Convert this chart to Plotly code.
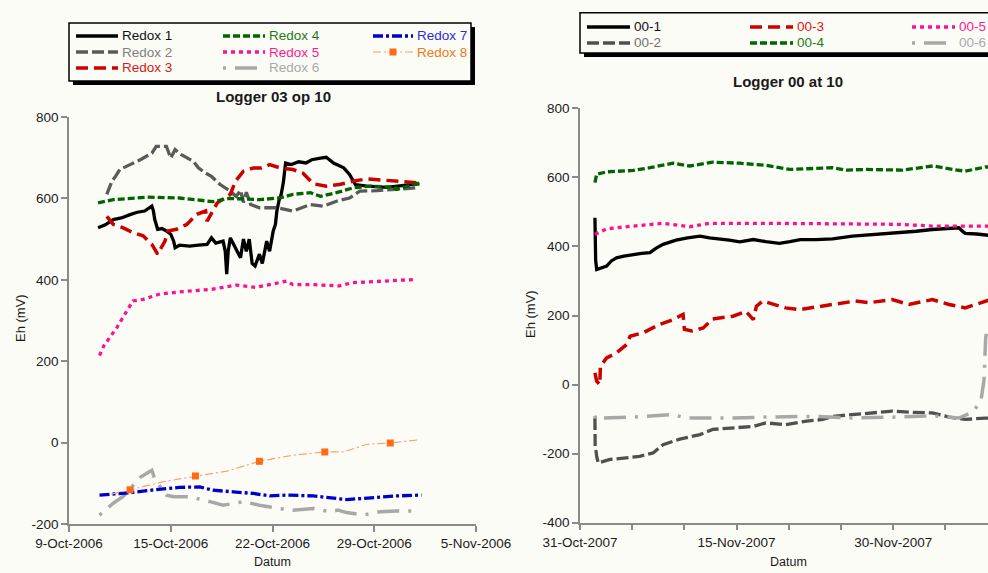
import pandas as pd
import plotly.graph_objects as go

W, H = 988, 573
BG = "#FCFCF6"
FONT = "Liberation Sans, Arial, sans-serif"
AXIS_GREY = "#8A8A8A"

START_03 = pd.Timestamp("2006-10-08")
START_00 = pd.Timestamp("2007-10-31")

# ---------------- Logger 03 op 10 : elapsed days since START_03, Eh in mV ----------------
redox1_days = [2.0, 2.5, 3.05, 3.6, 4.2, 4.7, 5.2, 5.5, 5.7, 5.8, 5.9, 6.1, 6.4, 6.7, 7.0, 7.2, 7.3,
               7.6, 8.3, 8.9, 9.5, 9.8, 10.1, 10.6, 10.75, 10.85, 10.95, 11.1, 11.4, 11.8, 12.0, 12.2,
               12.4, 12.6, 12.8, 13.1, 13.3, 13.6, 13.8, 14.05, 14.2, 14.3, 14.45, 14.6, 14.75, 14.9,
               15.3, 15.8, 16.3, 16.7, 17.3, 17.7, 18.2, 18.9, 19.3, 19.7, 20.5, 21.85, 23.5, 24.1]
redox1_eh = [528, 535, 548, 552, 560, 566, 569, 575, 581, 570, 548, 524, 526, 520, 512, 495, 479,
             485, 483, 485, 487, 503, 490, 495, 470, 414, 470, 503, 480, 454, 500, 470,
             500, 440, 434, 463, 440, 495, 470, 520, 536, 569, 595, 610, 640, 687,
             683, 690, 687, 695, 699, 701, 687, 675, 659, 634, 630, 627, 634, 636]

redox2_days = [2.6, 2.95, 3.2, 3.5, 4.2, 4.9, 5.7, 6.0, 6.7, 7.0, 7.3, 7.7, 8.55, 8.9, 9.4, 9.8, 10.4,
               11.0, 11.5, 11.8, 12.0, 12.2, 12.5, 13.1, 13.6, 14.3, 15.4, 16.6, 17.5, 18.4, 19.3,
               20.0, 21.2, 22.3, 23.9]
redox2_eh = [610, 642, 654, 671, 683, 695, 711, 728, 728, 699, 720, 708, 691, 675, 662, 654, 634,
             620, 605, 620, 590, 615, 585, 577, 577, 577, 569, 585, 581, 593, 601,
             618, 619, 622, 626]

redox3_days = [2.6, 3.05, 3.7, 4.4, 5.1, 5.7, 6.1, 6.6, 6.8, 7.4, 8.1, 8.8, 9.4, 9.5, 10.2, 11.1,
               11.45, 12.0, 12.7, 13.25, 13.8, 14.5, 15.4, 16.1, 16.8, 17.7, 18.6, 19.5, 20.5, 21.6,
               22.8, 24.1]
redox3_eh = [556, 536, 528, 516, 508, 487, 463, 495, 520, 524, 536, 561, 569, 544, 589, 610,
             642, 667, 675, 675, 683, 675, 671, 662, 636, 630, 634, 642, 648, 645,
             642, 638]

redox4_days = [2.0, 3.05, 5.3, 7.6, 9.9, 11.0, 13.1, 14.5, 15.4, 16.6, 17.3, 18.4, 19.55, 20.7,
               22.0, 22.3, 22.5, 24.1]
redox4_eh = [589, 597, 603, 601, 592, 600, 597, 601, 610, 614, 605, 614, 626, 630,
             628, 630, 622, 638]

redox5_days = [2.1, 2.4, 2.8, 3.3, 3.85, 4.1, 4.4, 5.1, 6.25, 7.85, 9.9, 11.5, 12.9, 13.1, 15.0,
               15.4, 16.8, 18.6, 19.5, 21.2, 22.8, 23.9]
redox5_eh = [214, 238, 258, 283, 316, 332, 348, 352, 365, 371, 377, 387, 381, 383, 397,
             388, 388, 385, 393, 396, 399, 401]

redox6_days = [2.1, 3.05, 3.7, 4.95, 5.5, 5.7, 5.9, 6.3, 6.7, 7.2, 8.3, 9.7, 10.6, 12.0, 13.1,
               14.5, 15.4, 16.8, 17.95, 18.5, 19.1, 20.25, 21.4, 22.5, 24.1]
redox6_eh = [-178, -149, -133, -84, -72, -68, -90, -109, -129, -133, -133, -145, -154, -145, -154,
             -162, -166, -162, -170, -166, -172, -178, -170, -168, -168]

redox7_days = [2.1, 3.05, 4.2, 5.35, 6.7, 7.6, 9.0, 9.9, 11.3, 12.7, 13.8, 15.0, 16.8, 18.2, 19.1,
               20.25, 21.4, 22.5, 24.25]
redox7_eh = [-129, -127, -123, -118, -113, -110, -109, -117, -121, -125, -131, -129, -131, -137, -140,
             -137, -133, -131, -129]

redox8_days = [2.9, 3.3, 4.2, 6.5, 8.7, 10.85, 13.1, 15.4, 17.6, 18.9, 20.5, 22.1, 24.1]
redox8_eh = [-127, -124, -116, -96, -82, -70, -46, -31, -23, -23, -4, -1, 7]
redox8_marked = [2, 4, 6, 8, 11]   # readings shown with a square marker

# ---------------- Logger 00 at 10 : elapsed days since START_00, Eh in mV ----------------
s001_days = [1.43, 1.45, 1.5, 1.6, 2.0, 2.55, 3.0, 3.5, 4.2, 5.1, 5.9, 6.7, 7.3, 7.96, 8.5, 9.2,
             10.3, 11.5, 12.4, 13.4, 14.3, 15.3, 16.0, 16.6, 17.8, 19.1, 20.1, 21.1, 22.6, 24.2,
             26.1, 27.6, 29.0, 30.6, 32.2, 33.75, 35.0, 36.3, 36.6, 36.9, 38.0, 38.85, 39.2]
s001_eh = [483, 420, 360, 333, 338, 343, 358, 367, 372, 377, 380, 382, 395, 406, 412, 418,
           425, 430, 425, 422, 418, 413, 418, 420, 414, 409, 414, 420, 420, 422,
           430, 433, 438, 441, 444, 449, 451, 454, 445, 438, 436, 433, 432]

s002_days = [1.43, 1.45, 1.6, 1.75, 2.87, 4.46, 5.7, 7.0, 7.96, 9.55, 11.5, 12.7, 14.65, 16.6,
             17.8, 19.7, 21.7, 23.25, 24.2, 26.1, 27.4, 29.9, 31.5, 33.75, 35.35, 36.9, 38.85, 39.2]
s002_eh = [-97, -174, -208, -227, -217, -213, -208, -198, -174, -158, -145, -130, -126, -121,
           -111, -116, -106, -101, -92, -87, -82, -77, -80, -82, -94, -101, -97, -97]

s003_days = [1.43, 1.6, 1.9, 1.95, 2.55, 3.5, 4.46, 4.8, 6.05, 7.6, 8.9, 9.87, 10.0, 10.7, 11.8,
             12.7, 14.65, 15.9, 16.6, 16.9, 17.5, 18.5, 19.7, 21.0, 22.9, 24.2, 26.4, 27.7, 29.9,
             31.5, 33.75, 35.35, 36.9, 38.85, 39.2]
s003_eh = [34, 10, 0, 53, 77, 92, 116, 140, 150, 174, 188, 203, 160, 155, 164,
           190, 198, 212, 188, 227, 242, 232, 222, 217, 227, 232, 242, 237, 246,
           232, 246, 232, 222, 242, 245]

s004_days = [1.43, 1.6, 2.55, 5.1, 6.7, 7.96, 8.9, 10.5, 12.7, 15.3, 17.8, 20.1, 22.6, 24.2, 25.5,
             27.4, 30.9, 33.8, 35.7, 36.9, 38.85, 39.2]
s004_eh = [585, 609, 616, 620, 628, 635, 641, 633, 644, 641, 635, 623, 625, 628, 621,
           623, 621, 633, 623, 618, 630, 630]

s005_days = [1.43, 2.55, 5.1, 7.96, 10.5, 12.4, 17.8, 24.2, 30.6, 33.7, 38.85, 39.2]
s005_eh = [435, 451, 459, 467, 457, 467, 467, 466, 464, 459, 459, 459]

s006_days = [1.43, 1.5, 1.9, 5.1, 8.9, 10.2, 14.65, 17.8, 22.6, 25.8, 30.6, 33.75, 36.3, 37.6,
             38.4, 38.7, 38.85, 39.0]
s006_eh = [-90, -100, -97, -94, -87, -97, -97, -94, -92, -97, -94, -90, -97, -80,
           -48, 14, 130, 170]

# axis ticks
x03_tickdays = [0, 7, 14, 21, 28]
x03_ticktext = ["9-Oct-2006", "15-Oct-2006", "22-Oct-2006", "29-Oct-2006", "5-Nov-2006"]
y03_ticks = [-200, 0, 200, 400, 600, 800]
x00_tickdays = [0, 5, 10, 15, 20, 25, 30, 35]
x00_ticktext = ["31-Oct-2007", "", "", "15-Nov-2007", "", "", "30-Nov-2007", ""]
y00_ticks = [-400, -200, 0, 200, 400, 600, 800]

# series styles: (name, days, eh, line colour, width, dash, label colour)
styles_03 = [
    ("Redox 1", redox1_days, redox1_eh, "#000000", 3.3, "solid", "#111111"),
    ("Redox 2", redox2_days, redox2_eh, "#5A5A5A", 3.3, "12px,4px", "#808080"),
    ("Redox 3", redox3_days, redox3_eh, "#CC0000", 3.5, "12px,6px", "#D81818"),
    ("Redox 4", redox4_days, redox4_eh, "#006400", 3.3, "7px,3px", "#1E7B1E"),
    ("Redox 5", redox5_days, redox5_eh, "#FF1090", 3.3, "4px,4px", "#FF1A90"),
    ("Redox 6", redox6_days, redox6_eh, "#A8A8A8", 3.5, "3px,9px,22px,9px", "#A8A8A8"),
    ("Redox 7", redox7_days, redox7_eh, "#0000CC", 3.3, "10px,3px,3px,3px", "#2B2BE0"),
    ("Redox 8", redox8_days, redox8_eh, "#F8A070", 1.2, "8px,3px,2px,3px", "#F07820"),
]
styles_00 = [
    ("00-1", s001_days, s001_eh, "#000000", 3.3, "solid", "#111111"),
    ("00-2", s002_days, s002_eh, "#505050", 3.3, "12px,4px", "#707070"),
    ("00-3", s003_days, s003_eh, "#CC0000", 3.5, "12px,6px", "#D81818"),
    ("00-4", s004_days, s004_eh, "#006400", 3.3, "7px,3px", "#1E7B1E"),
    ("00-5", s005_days, s005_eh, "#FF1090", 3.3, "4px,4px", "#FF1A90"),
    ("00-6", s006_days, s006_eh, "#A8A8A8", 3.5, "3px,9px,22px,9px", "#A8A8A8"),
]


def to_dates(start, days):
    return start + pd.to_timedelta(days, unit="D")


def px(x):
    return x / W


def py(y):
    return 1 - y / H


fig = go.Figure()

for name, d, v, col, w, dash, _ in styles_03:
    fig.add_trace(go.Scatter(x=to_dates(START_03, d), y=v, mode="lines", name=name,
                             line=dict(color=col, width=w, dash=dash),
                             xaxis="x", yaxis="y", showlegend=False))
fig.add_trace(go.Scatter(x=to_dates(START_03, [redox8_days[i] for i in redox8_marked]),
                         y=[redox8_eh[i] for i in redox8_marked], mode="markers",
                         marker=dict(symbol="square", size=7, color="#FF6A13"),
                         xaxis="x", yaxis="y", showlegend=False))

for name, d, v, col, w, dash, _ in styles_00:
    fig.add_trace(go.Scatter(x=to_dates(START_00, d), y=v, mode="lines", name=name,
                             line=dict(color=col, width=w, dash=dash),
                             xaxis="x2", yaxis="y2", showlegend=False))

tickfont = dict(family=FONT, size=13.5, color="#1A1A1A")
axis_common = dict(showline=True, linecolor=AXIS_GREY, linewidth=1.5, ticks="outside",
                   ticklen=6, tickwidth=1.5, tickcolor=AXIS_GREY, showgrid=False,
                   zeroline=False, tickfont=tickfont, automargin=False)

fig.update_layout(
    template="none",
    width=W, height=H, margin=dict(l=0, r=0, t=0, b=0, pad=0),
    paper_bgcolor=BG, plot_bgcolor=BG, showlegend=False,
    xaxis=dict(domain=[px(69), px(476)], anchor="y", type="date",
               range=[START_03, to_dates(START_03, 28)],
               tickvals=list(to_dates(START_03, x03_tickdays)), ticktext=x03_ticktext,
               **axis_common),
    yaxis=dict(domain=[py(524), py(117)], anchor="x", range=[-200, 800],
               tickvals=y03_ticks, ticktext=[str(t) for t in y03_ticks], **axis_common),
    xaxis2=dict(domain=[px(580), 1.0], anchor="y2", type="date",
                range=[START_00, to_dates(START_00, 39.08)],
                tickvals=list(to_dates(START_00, x00_tickdays)), ticktext=x00_ticktext,
                **axis_common),
    yaxis2=dict(domain=[py(522.7), py(108.3)], anchor="x2", range=[-400, 800],
                tickvals=y00_ticks, ticktext=[str(t) for t in y00_ticks], **axis_common),
)

shapes = []
annotations = []


def add_text(x, y, text, size=13, color="#1A1A1A", bold=False, angle=0, anchor="center"):
    annotations.append(dict(
        x=px(x), y=py(y), xref="paper", yref="paper", showarrow=False,
        text=f"<b>{text}</b>" if bold else text, textangle=angle,
        xanchor=anchor, yanchor="middle",
        font=dict(family=FONT, size=size, color=color)))


def legend_box(x0, y0, x1, y1):
    shapes.append(dict(type="rect", xref="paper", yref="paper",
                       x0=px(x0 + 4), x1=px(x1 + 4), y0=py(y1 + 4), y1=py(y0 + 4),
                       fillcolor="#000000", line=dict(width=0)))
    shapes.append(dict(type="rect", xref="paper", yref="paper",
                       x0=px(x0), x1=px(x1), y0=py(y1), y1=py(y0),
                       fillcolor=BG, line=dict(color="#000000", width=1.5)))


def legend_entry(x0, x1, y, col, w, dash, label, label_col):
    shapes.append(dict(type="line", xref="paper", yref="paper",
                       x0=px(x0), x1=px(x1), y0=py(y), y1=py(y),
                       line=dict(color=col, width=max(w, 1.2), dash=dash)))
    add_text(x1 + 2, y, label, size=13.5, color=label_col, anchor="left")


# legend of Logger 03
legend_box(69, 23, 471, 81)
cols_03 = [(76, 118), (223, 265), (373, 413)]
rows_03 = [36, 52, 68]
slots_03 = [(0, 0), (0, 1), (0, 2), (1, 0), (1, 1), (1, 2), (2, 0), (2, 1)]
for (ci, ri), (name, _, _, col, w, dash, tcol) in zip(slots_03, styles_03):
    legend_entry(cols_03[ci][0], cols_03[ci][1], rows_03[ri], col, w, dash, name, tcol)
mx, my = (cols_03[2][0] + cols_03[2][1]) / 2, rows_03[1]
shapes.append(dict(type="rect", xref="paper", yref="paper",
                   x0=px(mx - 3.5), x1=px(mx + 3.5), y0=py(my + 3.5), y1=py(my - 3.5),
                   fillcolor="#FF6A13", line=dict(width=0)))

# legend of Logger 00 (runs past the right edge of the figure)
legend_box(580, 12.7, 1040, 53)
cols_00 = [(587, 630), (750, 793), (912, 955)]
rows_00 = [27, 43]
slots_00 = [(0, 0), (0, 1), (1, 0), (1, 1), (2, 0), (2, 1)]
for (ci, ri), (name, _, _, col, w, dash, tcol) in zip(slots_00, styles_00):
    legend_entry(cols_00[ci][0], cols_00[ci][1], rows_00[ri], col, w, dash, name, tcol)

# titles
add_text(273, 97, "Logger 03 op 10", size=15, bold=True)
add_text(788, 82, "Logger 00 at 10", size=15, bold=True)
add_text(20, 318, "Eh (mV)", size=13, angle=-90)
add_text(530, 314, "Eh (mV)", size=13, angle=-90)
add_text(272, 562, "Datum", size=12.5)
add_text(788, 562, "Datum", size=12.5)

fig.update_layout(shapes=shapes, annotations=annotations)
fig.write_html("out.html")
